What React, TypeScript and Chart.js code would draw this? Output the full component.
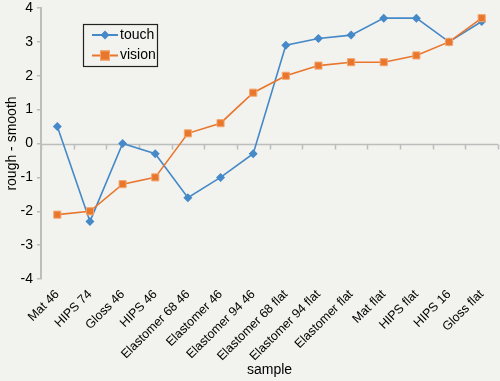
import React, { useEffect, useRef } from "react";
import { Chart, registerables } from "chart.js";

Chart.register(...registerables);

const categories = [
  "Mat 46",
  "HIPS 74",
  "Gloss 46",
  "HIPS 46",
  "Elastomer 68 46",
  "Elastomer 46",
  "Elastomer 94 46",
  "Elastomer 68 flat",
  "Elastomer 94 flat",
  "Elastomer flat",
  "Mat flat",
  "HIPS flat",
  "HIPS 16",
  "Gloss flat",
];
const touchValues = [0.5, -2.3, 0, -0.3, -1.6, -1.0, -0.3, 2.9, 3.1, 3.2, 3.7, 3.7, 3.0, 3.6];
const visionValues = [-2.1, -2.0, -1.2, -1.0, 0.3, 0.6, 1.5, 2.0, 2.3, 2.4, 2.4, 2.6, 3.0, 3.7];
const seriesNames = ["touch", "vision"];
const yTitle = "rough - smooth";
const xTitle = "sample";

const BLUE = "#4589c8";
const ORANGE = "#e8762d";
const AXIS = "#bdbdbd";
const BG = "#f2f2ee";
const FONT = "'Liberation Sans', Arial, sans-serif";

const bgPlugin = {
  id: "bg",
  beforeDraw(chart: any) {
    const ctx = chart.ctx;
    ctx.save();
    ctx.fillStyle = BG;
    ctx.fillRect(0, 0, chart.width, chart.height);
    ctx.restore();
  },
};

const zeroAxisPlugin = {
  id: "zeroAxis",
  beforeDatasetsDraw(chart: any) {
    const ctx = chart.ctx;
    const x = chart.scales.x;
    const y = chart.scales.y;
    const y0 = Math.round(y.getPixelForValue(0)) + 0.5;
    const area = chart.chartArea;
    ctx.save();
    ctx.strokeStyle = AXIS;
    ctx.lineWidth = 1.5;
    ctx.beginPath();
    ctx.moveTo(area.left, y0);
    ctx.lineTo(area.right, y0);
    const n = categories.length;
    const step = x.getPixelForValue(1) - x.getPixelForValue(0);
    for (let i = 0; i <= n; i++) {
      const px = x.getPixelForValue(0) - step / 2 + i * step;
      const rx = Math.round(px) + 0.5;
      ctx.moveTo(rx, y0);
      ctx.lineTo(rx, y0 + 5);
    }
    ctx.stroke();
    ctx.restore();
  },
};

const legendPlugin = {
  id: "customLegend",
  afterDraw(chart: any) {
    const ctx = chart.ctx;
    ctx.save();
    const bx = 83.5, by = 24.5, bw = 74, bh = 42;
    ctx.strokeStyle = "#222";
    ctx.lineWidth = 1.2;
    ctx.strokeRect(bx, by, bw, bh);
    const items = [
      { name: seriesNames[0], color: BLUE, style: "diamond", y: 35 },
      { name: seriesNames[1], color: ORANGE, style: "square", y: 55.5 },
    ];
    ctx.font = "14px " + FONT;
    ctx.textBaseline = "middle";
    for (const it of items) {
      ctx.strokeStyle = it.color;
      ctx.lineWidth = 2;
      ctx.beginPath();
      ctx.moveTo(92, it.y);
      ctx.lineTo(118, it.y);
      ctx.stroke();
      ctx.fillStyle = it.color;
      if (it.style === "diamond") {
        ctx.beginPath();
        ctx.moveTo(105, it.y - 4.5);
        ctx.lineTo(109.5, it.y);
        ctx.lineTo(105, it.y + 4.5);
        ctx.lineTo(100.5, it.y);
        ctx.closePath();
        ctx.fill();
      } else {
        ctx.fillRect(100, it.y - 5, 10, 10);
        ctx.strokeStyle = "#f4a46a";
        ctx.lineWidth = 1;
        ctx.strokeRect(100.5, it.y - 4.5, 9, 9);
      }
      ctx.fillStyle = "#000";
      ctx.fillText(it.name, 120, it.y);
    }
    ctx.restore();
  },
};

export default function App() {
  const ref = useRef<HTMLCanvasElement | null>(null);
  useEffect(() => {
    if (!ref.current) return;
    const chart = new Chart(ref.current, {
      type: "line",
      data: {
        labels: categories,
        datasets: [
          {
            label: seriesNames[0],
            data: touchValues,
            borderColor: BLUE,
            backgroundColor: BLUE,
            borderWidth: 1.6,
            pointStyle: "rectRot",
            pointRadius: 4.5,
            pointBorderWidth: 0,
            tension: 0,
            order: 1,
          },
          {
            label: seriesNames[1],
            data: visionValues,
            borderColor: ORANGE,
            backgroundColor: ORANGE,
            pointBorderColor: "#f4a46a",
            borderWidth: 1.6,
            pointStyle: "rect",
            pointRadius: 5,
            pointBorderWidth: 1,
            tension: 0,
            order: 0,
            clip: false,
          },
        ],
      },
      options: {
        animation: false,
        responsive: false,
        devicePixelRatio: 1,
        layout: { autoPadding: false, padding: { top: 8, right: 2, left: 0, bottom: 2 } },
        plugins: {
          legend: { display: false },
          tooltip: { enabled: false },
        },
        scales: {
          x: {
            offset: true,
            grid: { display: false },
            border: { display: false },
            ticks: {
              minRotation: 45,
              maxRotation: 45,
              color: "#000",
              font: { family: FONT, size: 12.5 },
              padding: 0,
            },
            title: {
              display: true,
              text: xTitle,
              color: "#000",
              font: { family: FONT, size: 14 },
              padding: { top: 0, bottom: 0 },
            },
            afterFit(scale: any) {
              scale.height = 100;
              scale.paddingLeft = 0;
              scale.paddingRight = 0;
            },
          },
          y: {
            min: -4,
            max: 4,
            ticks: {
              stepSize: 1,
              color: "#000",
              font: { family: FONT, size: 14 },
              padding: 4,
            },
            grid: {
              drawOnChartArea: false,
              color: AXIS,
              tickLength: 4,
              lineWidth: 1.5,
            },
            border: { display: true, color: AXIS, width: 2 },
            title: {
              display: true,
              text: yTitle,
              color: "#000",
              font: { family: FONT, size: 14 },
              padding: { top: 4, bottom: 0 },
            },
            afterFit(scale: any) {
              scale.width = 41;
              scale.paddingTop = 0;
              scale.paddingBottom = 0;
            },
          },
        },
      },
      plugins: [bgPlugin, zeroAxisPlugin, legendPlugin],
    });
    return () => chart.destroy();
  }, []);
  return (
    <div style={{ position: "absolute", left: 0, top: 0, width: 500, height: 381 }}>
      <canvas ref={ref} width={500} height={381} style={{ display: "block", width: 500, height: 381 }} />
    </div>
  );
}
